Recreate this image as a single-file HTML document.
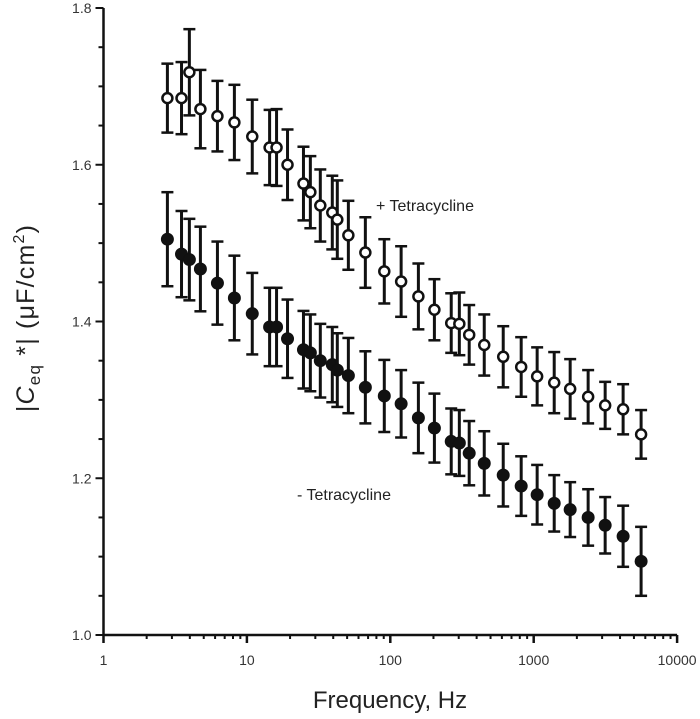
<!DOCTYPE html>
<html><head><meta charset="utf-8"><style>
html,body{margin:0;padding:0;background:#fff;}
svg{display:block;font-family:"Liberation Sans",Arial,sans-serif;}
</style></head><body>
<svg id="chart" width="700" height="719" viewBox="0 0 700 719" xmlns="http://www.w3.org/2000/svg">
<g id="axes"></g>
<g id="marks"></g>
<text x="390" y="708" font-size="24" text-anchor="middle" fill="#222">Frequency, Hz</text>
<text transform="translate(34,318) rotate(-90)" font-size="25" letter-spacing="1.2" text-anchor="middle" fill="#222">|<tspan font-style="italic">C</tspan><tspan font-size="17" dy="6">eq</tspan><tspan dy="-6"> *| (μF/cm</tspan><tspan font-size="16" dy="-10">2</tspan><tspan dy="10">)</tspan></text>
<text x="376" y="211" font-size="16" fill="#222">+  Tetracycline</text>
<text x="297" y="500" font-size="16" fill="#222">-  Tetracycline</text>
</svg>
<script>
const freqs=[2.79,3.50,3.97,4.74,6.23,8.18,10.9,14.4,16.1,19.2,24.8,27.7,32.5,39.4,42.7,51.0,67,90.8,119,157,203,266,303,355,452,613,818,1057,1390,1796,2397,3150,4203,5610];
const withTet=[1.685,1.685,1.718,1.671,1.662,1.654,1.636,1.622,1.622,1.600,1.576,1.565,1.548,1.539,1.530,1.510,1.488,1.464,1.451,1.432,1.415,1.398,1.397,1.383,1.370,1.355,1.342,1.330,1.322,1.314,1.304,1.293,1.288,1.256];
const withTetErr=[0.044,0.046,0.055,0.050,0.045,0.048,0.047,0.048,0.049,0.045,0.047,0.046,0.046,0.047,0.050,0.044,0.045,0.041,0.045,0.042,0.039,0.038,0.040,0.038,0.039,0.039,0.038,0.037,0.039,0.038,0.034,0.030,0.032,0.031];
const noTet=[1.505,1.486,1.479,1.467,1.449,1.430,1.410,1.393,1.393,1.378,1.364,1.360,1.350,1.345,1.338,1.331,1.316,1.305,1.295,1.277,1.264,1.247,1.245,1.232,1.219,1.204,1.190,1.179,1.168,1.160,1.150,1.140,1.126,1.094];
const noTetErr=[0.060,0.055,0.052,0.054,0.053,0.054,0.052,0.050,0.050,0.050,0.0495,0.049,0.047,0.048,0.047,0.048,0.046,0.046,0.043,0.045,0.044,0.042,0.042,0.041,0.041,0.040,0.038,0.038,0.036,0.035,0.036,0.036,0.039,0.044];
const xTicks=["1","10","100","1000","10000"];
const yTicks=["1.0","1.2","1.4","1.6","1.8"];

const NS="http://www.w3.org/2000/svg";
const X0=103.5,XD=143.4,Y0=635,YTOP=8;
function xs(f){return X0+XD*Math.log10(f);}
function ys(v){return Y0-(v-1.0)/0.8*(Y0-YTOP);}
function el(tag,attrs,parent){const e=document.createElementNS(NS,tag);for(const k in attrs)e.setAttribute(k,attrs[k]);parent.appendChild(e);return e;}
const axes=document.getElementById('axes'),marks=document.getElementById('marks');
const xa=el('line',{x1:X0,y1:Y0,x2:xs(10000),y2:Y0,stroke:'#111','stroke-width':2.5},axes);


const ya=el('line',{x1:X0,y1:Y0+1,x2:X0,y2:YTOP,stroke:'#111','stroke-width':2.5},axes);


for(let d=0;d<4;d++){for(let m=2;m<=9;m++){const x=xs(Math.pow(10,d)*m);el('line',{x1:x,y1:Y0,x2:x,y2:Y0+4,stroke:'#111','stroke-width':2},axes);}}
xTicks.forEach(t=>{const x=xs(+t);el('line',{x1:x,y1:Y0,x2:x,y2:Y0+8,stroke:'#111','stroke-width':2.5},axes);
 const tx=el('text',{x:x,y:Y0+30,'font-size':14,'text-anchor':'middle',fill:'#333'},axes);tx.textContent=t;
 
 });
for(let i=0;i<=16;i++){const v=1.0+i*0.05;const y=ys(v);el('line',{x1:X0-(i%4===0?8:5),y1:y,x2:X0,y2:y,stroke:'#111','stroke-width':2},axes);}
yTicks.forEach(t=>{const y=ys(+t);const tx=el('text',{x:X0-12,y:y+5,'font-size':14,'text-anchor':'end',fill:'#333'},axes);tx.textContent=t;
 
 });
function series(vals,errs,open,name){
 const g=el('g',{},marks);
 
 
 freqs.forEach((f,i)=>{const x=xs(f),yt=ys(vals[i]+errs[i]),yb=ys(vals[i]-errs[i]),y=ys(vals[i]);
  el('line',{x1:x,y1:yt,x2:x,y2:yb,stroke:'#111','stroke-width':3},g);
  el('line',{x1:x-6,y1:yt,x2:x+6,y2:yt,stroke:'#111','stroke-width':2.5},g);
  el('line',{x1:x-6,y1:yb,x2:x+6,y2:yb,stroke:'#111','stroke-width':2.5},g);
  const c=el('circle',{cx:x,cy:y,r:open?5:6,fill:open?'#fff':'#111',stroke:'#111','stroke-width':open?2.5:1},g);
  
  
 });
}
series(withTet,withTetErr,true,'series-plus-tetracycline');
series(noTet,noTetErr,false,'series-minus-tetracycline');
</script>
</body></html>
